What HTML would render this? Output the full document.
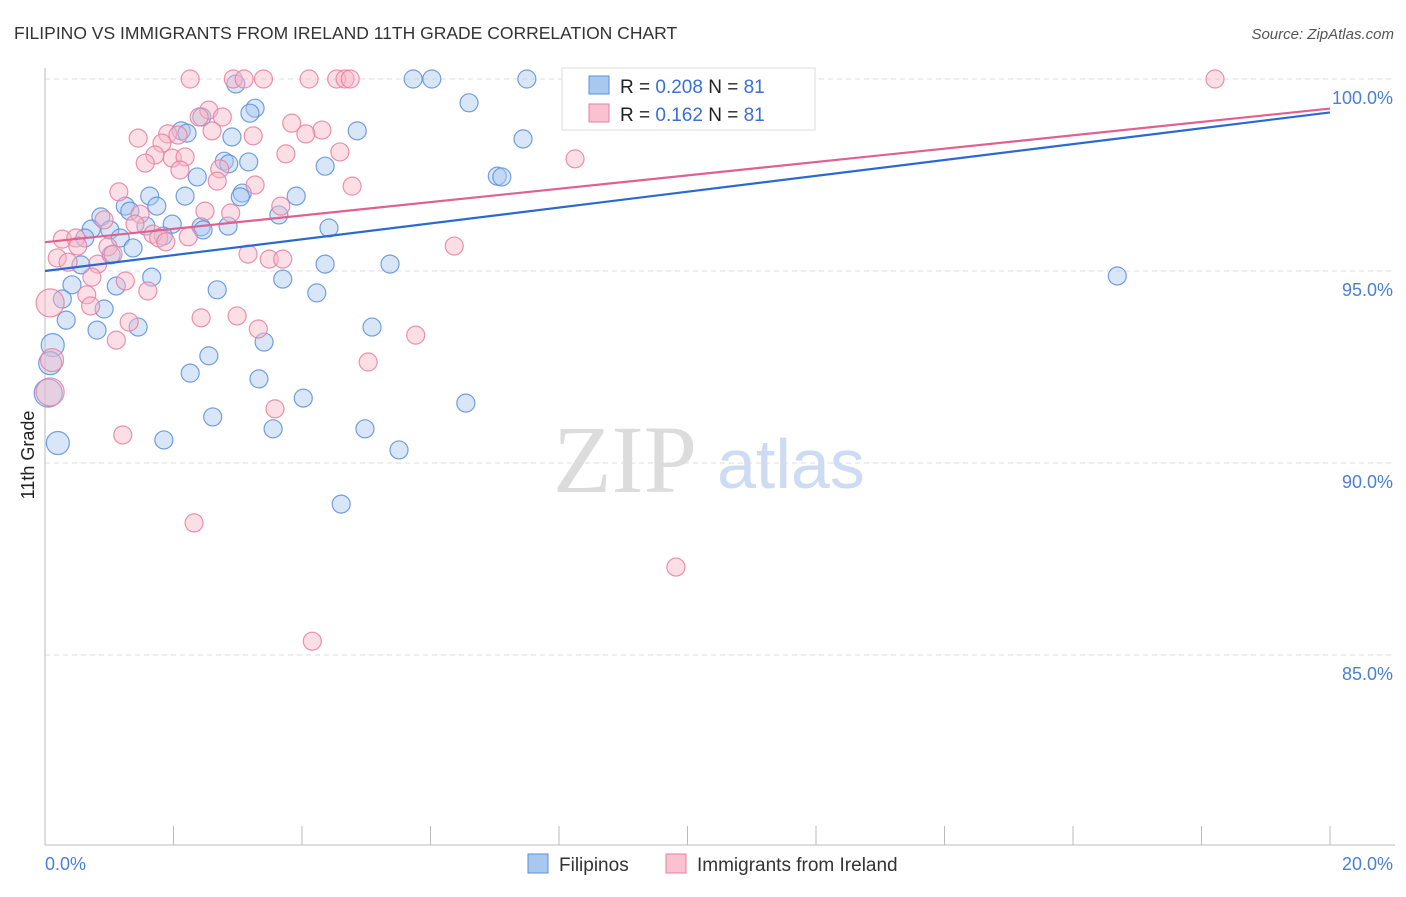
<!DOCTYPE html>
<html><head><meta charset="utf-8"><style>
body{margin:0;background:#fff;font-family:"Liberation Sans",sans-serif}
svg text{font-family:"Liberation Sans",sans-serif}
</style></head><body>
<svg id="chart" width="1406" height="892" viewBox="0 0 1406 892" xmlns="http://www.w3.org/2000/svg">
<text x="14" y="39" font-size="17.5" fill="#333">FILIPINO VS IMMIGRANTS FROM IRELAND 11TH GRADE CORRELATION CHART</text>
<text x="1394" y="39" font-size="15" fill="#555" font-style="italic" text-anchor="end">Source: ZipAtlas.com</text>
<g>
<text x="553" y="492" font-size="96" fill="#dcdcdc" font-family="Liberation Serif,serif" style="font-family:'Liberation Serif',serif">ZIP</text>
<text x="717" y="488" font-size="70" fill="#cddcf2">atlas</text>
</g>
<g id="grid"></g>
<g id="axes"></g>
<g id="marks"></g>
<text transform="translate(34,455) rotate(-90)" font-size="18" fill="#222" text-anchor="middle">11th Grade</text>
<g>
<rect x="562" y="68" width="253" height="62" fill="#fff" stroke="#ddd"/>
<rect x="589" y="76" width="20" height="18" fill="#a9c8f0" stroke="#5b8fdc"/>
<rect x="589" y="104" width="20" height="18" fill="#f9c1d1" stroke="#e87fa0"/>
<text x="620" y="93" font-size="19" fill="#222">R = <tspan fill="#3b6fd4">0.208</tspan>   N = <tspan fill="#3b6fd4">81</tspan></text>
<text x="620" y="121" font-size="19" fill="#222">R =  <tspan fill="#3b6fd4">0.162</tspan>   N = <tspan fill="#3b6fd4">81</tspan></text>
</g>
<g>
<rect x="528" y="854" width="20" height="19" fill="#a9c8f0" stroke="#5b8fdc"/>
<text x="559" y="871" font-size="19" fill="#333">Filipinos</text>
<rect x="666" y="854" width="20" height="19" fill="#f9c1d1" stroke="#e87fa0"/>
<text x="697" y="871" font-size="19" fill="#333">Immigrants from Ireland</text>
</g>
</svg>
<script>
const yTicks=[100,95,90,85];
const yTickLabels=["100.0%","95.0%","90.0%","85.0%"];
const xTicks=[0,2,4,6,8,10,12,14,16,18,20];
const xEndLabels=["0.0%","20.0%"];
const blueX=[11.75,5.73,6.02,7.50,2.97,6.60,2.44,3.27,3.19,2.12,2.21,2.91,4.86,7.44,2.79,2.86,3.17,4.36,2.37,7.04,7.11,1.63,2.18,3.07,3.04,3.91,1.25,1.74,1.32,3.64,0.87,1.98,2.43,1.57,2.85,2.46,4.42,0.72,1.01,1.17,1.84,0.62,1.37,1.03,0.56,4.36,5.37,1.66,0.42,1.11,3.70,2.68,4.23,0.27,0.92,0.33,0.81,1.45,5.09,3.41,2.55,0.12,0.08,2.26,3.33,4.02,6.55,0.05,2.61,3.55,4.98,0.2,1.85,5.51,4.61,16.69];
const blueY=[100,100,100,100,99.87,99.38,99.01,99.24,99.11,98.65,98.59,98.49,98.65,98.44,97.86,97.79,97.84,97.73,97.45,97.47,97.45,96.95,96.95,97.03,96.93,96.95,96.69,96.69,96.56,96.46,96.41,96.22,96.15,96.17,96.17,96.07,96.12,96.09,96.07,95.86,95.91,95.86,95.6,95.42,95.16,95.18,95.18,94.84,94.64,94.61,94.79,94.51,94.43,94.27,94.01,93.72,93.46,93.54,93.54,93.15,92.79,93.07,92.6,92.34,92.19,91.69,91.56,91.82,91.2,90.89,90.89,90.52,90.6,90.34,88.93,94.87];
const blueW=[1,1,1,1,1,1,1,1,1,1,1,1,1,1,1,1,1,1,1,1,1,1,1,1,1,1,1,1,1,1,1,1,1,1,1,1,1,1,1,1,1,1,1,1,1,1,1,1,1,1,1,1,1,1,1,1,1,1,1,1,1,2,2,1,1,1,1,3,1,1,1,2,1,1,1,1];
const pinkX=[2.26,2.93,3.10,3.40,4.11,4.54,4.67,4.75,18.21,2.55,2.76,2.4,3.84,4.31,4.06,3.24,1.45,1.91,2.07,2.60,1.82,4.59,3.75,1.71,1.98,2.18,1.56,8.25,2.10,2.72,2.68,3.27,4.78,1.15,3.67,2.49,2.89,0.92,1.48,1.40,1.68,1.77,1.88,2.23,0.27,0.48,0.51,6.37,0.98,3.16,3.49,3.70,0.19,0.36,0.82,1.06,1.25,1.60,0.73,0.65,0.08,0.71,1.31,2.43,2.99,3.32,1.11,5.77,5.03,0.11,0.08,3.58,1.21,2.32,9.82,4.16];
const pinkY=[100,100,100,100,100,100,100,100,100,99.19,99.01,99.01,98.85,98.67,98.57,98.52,98.46,98.57,98.54,98.65,98.33,98.1,98.05,98.02,97.94,97.97,97.81,97.92,97.63,97.66,97.34,97.24,97.21,97.06,96.69,96.56,96.51,96.33,96.48,96.22,95.96,95.86,95.76,95.89,95.83,95.86,95.65,95.65,95.63,95.44,95.31,95.31,95.34,95.23,95.18,95.44,94.74,94.48,94.84,94.38,94.17,94.09,93.67,93.78,93.83,93.49,93.2,93.33,92.63,92.68,91.85,91.41,90.73,88.44,87.29,85.36];
const pinkW=[1,1,1,1,1,1,1,1,1,1,1,1,1,1,1,1,1,1,1,1,1,1,1,1,1,1,1,1,1,1,1,1,1,1,1,1,1,1,1,1,1,1,1,1,1,1,1,1,1,1,1,1,1,1,1,1,1,1,1,1,3,1,1,1,1,1,1,1,1,2,3,1,1,1,1,1];
const blueLine=[95.0,99.13];
const pinkLine=[95.75,99.23];

const NS="http://www.w3.org/2000/svg";
const X0=45,XW=64.25,Y0=79,YH=38.4;
const sx=v=>X0+v*XW;
const sy=v=>Y0+(100-v)*YH;
function mk(tag,attrs,parent){const e=document.createElementNS(NS,tag);for(const k in attrs)e.setAttribute(k,attrs[k]);parent.appendChild(e);return e;}
const grid=document.getElementById('grid'),axes=document.getElementById('axes'),marks=document.getElementById('marks');
yTicks.forEach((t,i)=>{
  const l=mk('line',{x1:45,x2:1395,y1:sy(t),y2:sy(t),stroke:'#ddd','stroke-dasharray':'5,4'},grid);
  
  
  const tx=mk('text',{x:1393,y:sy(t)+25,'font-size':18,fill:'#4a7fd8','text-anchor':'end'},axes);
  tx.textContent=yTickLabels[i];
  
  
});
let a=mk('line',{x1:45,x2:45,y1:68,y2:845,stroke:'#bbb'},axes);


a=mk('line',{x1:45,x2:1395,y1:845,y2:845,stroke:'#bbb'},axes);


xTicks.forEach(t=>{
  const l=mk('line',{x1:sx(t),x2:sx(t),y1:826,y2:845,stroke:'#bbb'},axes);
  
  
});
let t1=mk('text',{x:45,y:870,'font-size':18,fill:'#4a7fd8'},axes);t1.textContent=xEndLabels[0];


let t2=mk('text',{x:1393,y:870,'font-size':18,fill:'#4a7fd8','text-anchor':'end'},axes);t2.textContent=xEndLabels[1];


function pts(xs,ys,ws,fill,stroke,name){
  xs.forEach((x,i)=>{
    const c=mk('circle',{cx:sx(x),cy:sy(ys[i]),r:ws[i]===3?14:ws[i]===2?11.5:9,fill:fill,'fill-opacity':0.45,stroke:stroke,'stroke-width':1.2,'stroke-opacity':0.85},marks);
    
    
  });
}
pts(blueX,blueY,blueW,'#a9c8f0','#5b8fdc','filipinos-point');
pts(pinkX,pinkY,pinkW,'#f7b6c8','#e87fa0','ireland-point');
let bl=mk('line',{x1:sx(0),y1:sy(blueLine[0]),x2:sx(20),y2:sy(blueLine[1]),stroke:'#2a6ad0','stroke-width':2.2},marks);


let pl=mk('line',{x1:sx(0),y1:sy(pinkLine[0]),x2:sx(20),y2:sy(pinkLine[1]),stroke:'#e0608f','stroke-width':2.2},marks);


</script>
</body></html>
